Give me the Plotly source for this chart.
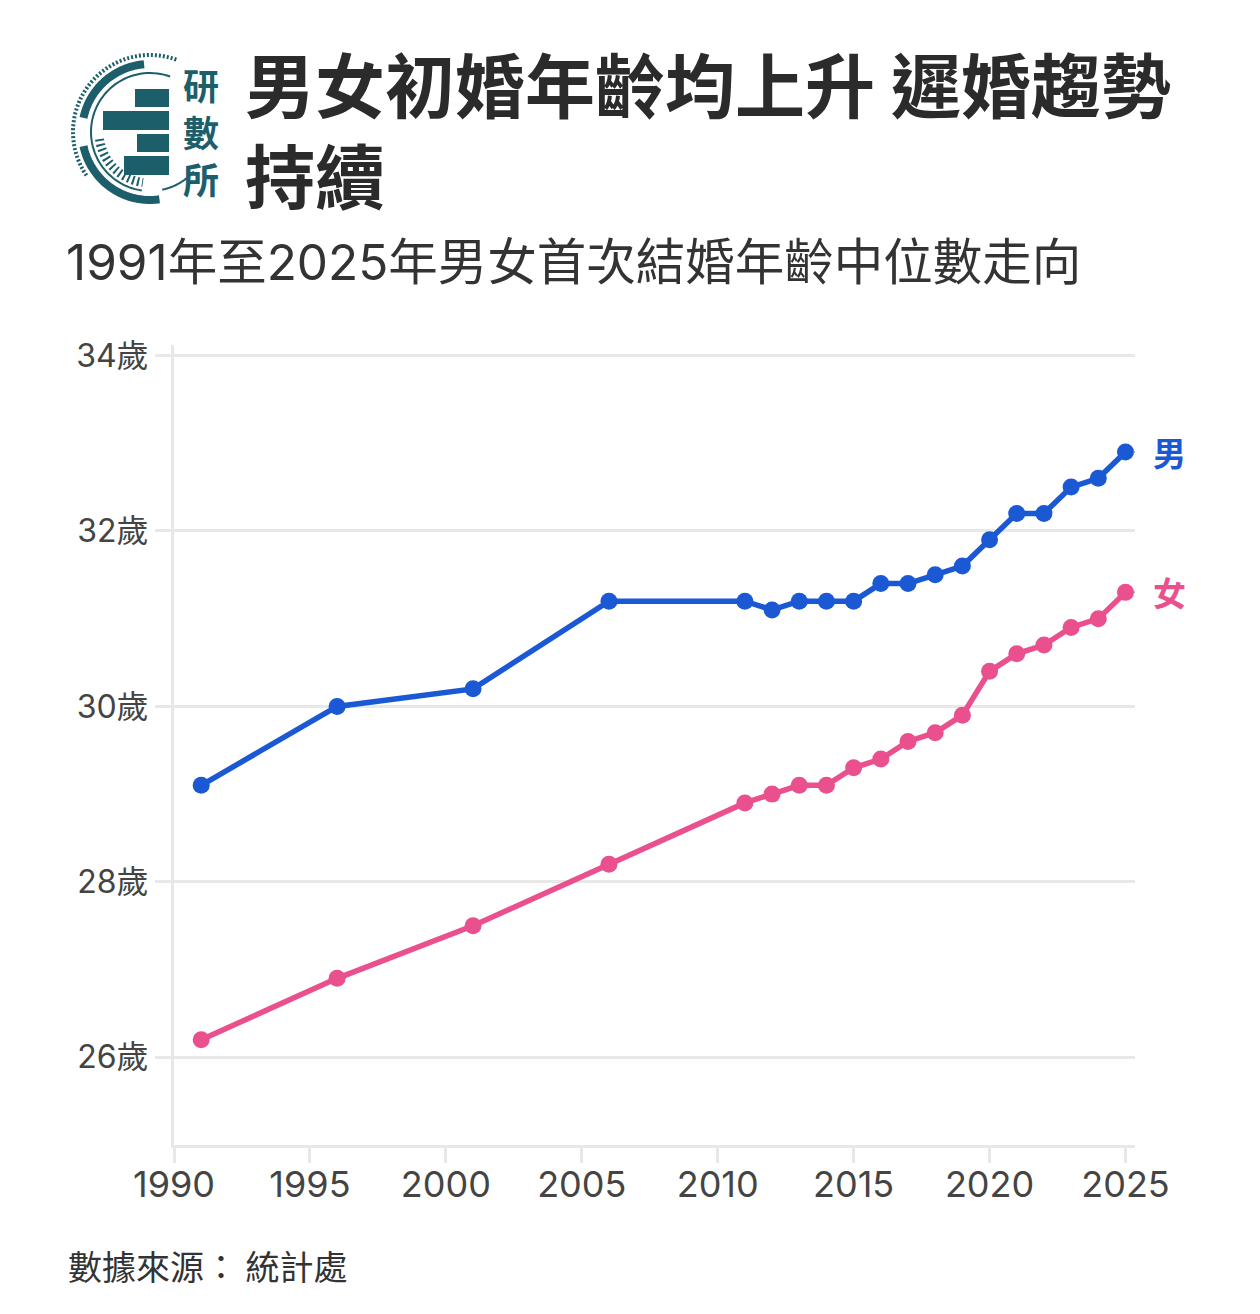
import numpy as np
import plotly.graph_objects as go

# 資料：1991-2025 年男女首次結婚年齡中位數
years = [1991, 1996, 2001, 2006, 2011, 2012, 2013, 2014, 2015, 2016,
         2017, 2018, 2019, 2020, 2021, 2022, 2023, 2024, 2025]
male = [29.1, 30.0, 30.2, 31.2, 31.2, 31.1, 31.2, 31.2, 31.2, 31.4,
        31.4, 31.5, 31.6, 31.9, 32.2, 32.2, 32.5, 32.6, 32.9]
female = [26.2, 26.9, 27.5, 28.2, 28.9, 29.0, 29.1, 29.1, 29.3, 29.4,
          29.6, 29.7, 29.9, 30.4, 30.6, 30.7, 30.9, 31.0, 31.3]
x_ticks = [1990, 1995, 2000, 2005, 2010, 2015, 2020, 2025]
y_ticks = [26, 28, 30, 32, 34]
y_ticktext = ["26歲", "28歲", "30歲", "32歲", "34歲"]

FONT = "Noto Sans CJK TC"
NUMFONT = "Inter, Noto Sans CJK TC"
BLUE = "#1a58d4"
PINK = "#e9508d"
TEAL = "#1d5e6b"
GRID = "#e8e8e8"

W, H = 1260, 1314
OFF = 8  # 頁面邊距
L, R, T, B = 174, 1135, 345, 1145


def px(x):
    return (x - L) / (R - L)


def py(y):
    return (B - y) / (B - T)


def arc(cx, cy, r, a0, a1, n=60):
    pts = []
    for a in np.linspace(np.radians(a0), np.radians(a1), n):
        pts.append((px(cx + r * np.cos(a)), py(cy - r * np.sin(a))))
    return "M " + " L ".join(f"{x:.5f},{y:.5f}" for x, y in pts)


fig = go.Figure()
fig.add_trace(go.Scatter(x=years, y=male, mode="lines+markers", name="男",
                         line=dict(color=BLUE, width=5.5),
                         marker=dict(size=17, color=BLUE), cliponaxis=False))
fig.add_trace(go.Scatter(x=years, y=female, mode="lines+markers", name="女",
                         line=dict(color=PINK, width=5.5),
                         marker=dict(size=17, color=PINK), cliponaxis=False))

shapes = []
# 末端標籤的灰色短線
for v in [male[-1], female[-1]]:
    shapes.append(dict(type="line", xref="x", yref="y", x0=years[-1] + 0.3, x1=years[-1] + 0.65,
                       y0=v, y1=v, line=dict(color="#aaaaaa", width=2)))

# logo
cx, cy = 150, 132
shapes.append(dict(type="path", xref="paper", yref="paper", path=arc(cx, cy, 77, 70, 215),
                   line=dict(color=TEAL, width=4, dash="2px,2px")))
shapes.append(dict(type="path", xref="paper", yref="paper", path=arc(cx, cy, 68, 95, 168),
                   line=dict(color=TEAL, width=8)))
shapes.append(dict(type="path", xref="paper", yref="paper", path=arc(cx, cy, 68, 192, 278),
                   line=dict(color=TEAL, width=8)))
shapes.append(dict(type="path", xref="paper", yref="paper", path=arc(cx, cy, 59, 70, 262),
                   line=dict(color=TEAL, width=2)))
shapes.append(dict(type="path", xref="paper", yref="paper", path=arc(cx, cy, 51, 188, 262),
                   line=dict(color=TEAL, width=9, dash="2px,3px")))
shapes.append(dict(type="path", xref="paper", yref="paper", path=arc(cx, cy, 59, 282, 318),
                   line=dict(color=TEAL, width=2)))
for x0, y0, y1 in [(135, 89, 107), (103, 111, 130), (137, 134, 152), (124, 156, 175)]:
    shapes.append(dict(type="rect", xref="paper", yref="paper", x0=px(x0), x1=px(169),
                       y0=py(y1), y1=py(y0), fillcolor=TEAL, line=dict(width=0)))

annotations = [
    dict(text="<b>研<br>數<br>所</b>", x=px(201), y=py(131), xref="paper", yref="paper",
         showarrow=False, xanchor="center", yanchor="middle",
         font=dict(family=FONT, size=36, color=TEAL)),
    dict(text="<b>男女初婚年齡均上升 遲婚趨勢<br>持續</b>", x=px(243), y=py(128), xref="paper", yref="paper",
         showarrow=False, xanchor="left", yanchor="middle", align="left",
         font=dict(family=FONT, size=70, color="#2b2b2b")),
    dict(text="1991年至2025年男女首次結婚年齡中位數走向", x=px(64), y=py(262), xref="paper", yref="paper",
         showarrow=False, xanchor="left", yanchor="middle",
         font=dict(family=NUMFONT, size=49.5, color="#333333")),
    dict(text="數據來源： 統計處", x=px(66), y=py(1265), xref="paper", yref="paper",
         showarrow=False, xanchor="left", yanchor="middle",
         font=dict(family=FONT, size=34, color="#333333")),
    dict(text="<b>男</b>", x=years[-1], y=male[-1], xref="x", yref="y", xshift=44,
         showarrow=False, xanchor="center", yanchor="middle",
         font=dict(family=FONT, size=33, color=BLUE)),
    dict(text="<b>女</b>", x=years[-1], y=female[-1], xref="x", yref="y", xshift=44,
         showarrow=False, xanchor="center", yanchor="middle",
         font=dict(family=FONT, size=33, color=PINK)),
]

fig.update_layout(
    width=W, height=H,
    margin=dict(l=L - OFF, r=W - (R - OFF), t=T - OFF, b=H - (B - OFF)),
    paper_bgcolor="white", plot_bgcolor="white",
    showlegend=False,
    font=dict(family=FONT, color="#444444"),
    shapes=shapes,
    annotations=annotations,
)
fig.update_xaxes(range=[1990, 2025.35], tickvals=x_ticks, showgrid=False, zeroline=False,
                 showline=True, linecolor=GRID, linewidth=3,
                 ticks="outside", ticklen=15, tickwidth=3, tickcolor=GRID, ticklabelstandoff=-9,
                 tickfont=dict(family=NUMFONT, size=36, color="#444444"))
fig.update_yaxes(range=[25.0, 34.12], tickvals=y_ticks, ticktext=y_ticktext,
                 showgrid=True, gridcolor=GRID, gridwidth=3, zeroline=False,
                 showline=True, linecolor=GRID, linewidth=3,
                 ticks="outside", ticklen=16, tickwidth=3, tickcolor=GRID,
                 tickfont=dict(family=NUMFONT, size=32, color="#444444"))

fig.write_html("out.html")
